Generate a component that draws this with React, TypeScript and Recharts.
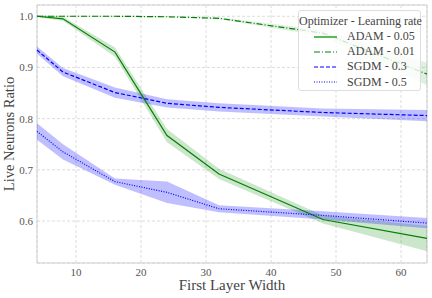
import React from 'react';
import {
  ComposedChart,
  Line,
  Area,
  XAxis,
  YAxis,
  CartesianGrid,
  ReferenceArea,
} from 'recharts';

const widths = [4, 8, 16, 24, 32, 48, 64];
const adam005 = [1.0, 0.995, 0.93, 0.767, 0.692, 0.603, 0.566];
const adam005Std = [0.002, 0.004, 0.009, 0.013, 0.01, 0.008, 0.025];
const adam001 = [1.0, 1.0, 1.0, 0.999, 0.996, 0.967, 0.887];
const adam001Std = [0.001, 0.001, 0.001, 0.001, 0.002, 0.006, 0.022];
const sgdm03 = [0.934, 0.891, 0.851, 0.83, 0.822, 0.812, 0.806];
const sgdm03Std = [0.007, 0.008, 0.01, 0.008, 0.008, 0.008, 0.011];
const sgdm05 = [0.775, 0.735, 0.677, 0.656, 0.624, 0.611, 0.596];
const sgdm05Std = [0.016, 0.015, 0.006, 0.021, 0.007, 0.008, 0.01];

const xTicks = [10, 20, 30, 40, 50, 60];
const yTicks = [0.6, 0.7, 0.8, 0.9, 1.0];

const GREEN = '#008000';
const BLUE = '#0000ff';
const FONT = '"Liberation Serif", "DejaVu Serif", serif';

const series = [
  { key: 'adam005', name: 'ADAM - 0.05', mean: adam005, std: adam005Std, color: GREEN, dash: undefined, band: 0.2 },
  { key: 'adam001', name: 'ADAM - 0.01', mean: adam001, std: adam001Std, color: GREEN, dash: '6 2 1 2', band: 0.12 },
  { key: 'sgdm03', name: 'SGDM - 0.3', mean: sgdm03, std: sgdm03Std, color: BLUE, dash: '4 2', band: 0.25 },
  { key: 'sgdm05', name: 'SGDM - 0.5', mean: sgdm05, std: sgdm05Std, color: BLUE, dash: '1 1.5', band: 0.25 },
];

const data = widths.map((w, i) => {
  const row: any = { width: w };
  series.forEach((s) => {
    row[s.key] = s.mean[i];
    row[s.key + 'Band'] = [s.mean[i] - s.std[i], s.mean[i] + s.std[i]];
  });
  return row;
});

function LegendBox() {
  return (
    <div
      style={{
        position: 'absolute',
        left: 298,
        top: 10,
        width: 123,
        height: 81,
        boxSizing: 'border-box',
        background: 'rgba(255,255,255,0.8)',
        border: '1px solid #ddd',
        borderRadius: 3,
        paddingTop: 3,
        fontFamily: FONT,
        fontSize: 12,
        color: '#444',
        whiteSpace: 'nowrap',
      }}
    >
      <div style={{ textAlign: 'center', lineHeight: '15px' }}>Optimizer - Learning rate</div>
      {series.map((s) => (
        <div key={s.key} style={{ display: 'flex', alignItems: 'center', height: 15.2 }}>
          <svg width={48} height={10}>
            <line
              x1={15}
              x2={38}
              y1={5}
              y2={5}
              stroke={s.key === 'adam005' ? '#5cb85c' : s.color}
              strokeWidth={s.key === 'adam005' ? 2 : 1.2}
              strokeDasharray={s.dash}
            />
          </svg>
          <span>{s.name}</span>
        </div>
      ))}
    </div>
  );
}

const YLabel = () => (
  <text
    x={9}
    y={134}
    transform="rotate(-90 9 134)"
    textAnchor="middle"
    dominantBaseline="central"
    fontFamily={FONT}
    fontSize={14.5}
    fill="#444"
  >
    Live Neurons Ratio
  </text>
);

const XLabel = () => (
  <text x={232} y={290} textAnchor="middle" fontFamily={FONT} fontSize={15} fill="#444">
    First Layer Width
  </text>
);

export default function App() {
  return (
    <div style={{ position: 'absolute', left: 0, top: 0, width: 432, height: 298, background: '#fff', fontFamily: FONT }}>
      <ComposedChart
        width={432}
        height={298}
        data={data}
        margin={{ top: 5, right: 5, left: 0, bottom: 0 }}
      >
        <CartesianGrid stroke="#dcdcdc" strokeDasharray="3 2" />
        <XAxis
          dataKey="width"
          type="number"
          domain={[4, 64]}
          ticks={xTicks}
          height={35}
          axisLine={false}
          tickLine={false}
          tickSize={2}
          tickMargin={3}
          tick={{ fontFamily: FONT, fontSize: 11, fill: '#555' }}
          label={{ content: () => <XLabel /> }}
        />
        <YAxis
          type="number"
          domain={[0.518, 1.022]}
          ticks={yTicks}
          width={37}
          axisLine={false}
          tickLine={false}
          tickSize={0}
          tickMargin={4}
          tickFormatter={(v) => v.toFixed(1)}
          tick={{ fontFamily: FONT, fontSize: 11, fill: '#555' }}
          label={{ content: () => <YLabel /> }}
        />
        <ReferenceArea x1={4} x2={64} y1={0.518} y2={1.022} fill="none" stroke="#d0d0d0" strokeWidth={1} />
        {series.map((s) => (
          <Area
            key={s.key + 'Band'}
            dataKey={s.key + 'Band'}
            type="linear"
            stroke="none"
            fill={s.color}
            fillOpacity={s.band}
            isAnimationActive={false}
            legendType="none"
            activeDot={false}
          />
        ))}
        {series.map((s) => (
          <Line
            key={s.key}
            dataKey={s.key}
            name={s.name}
            type="linear"
            stroke={s.color}
            strokeWidth={1.2}
            strokeDasharray={s.dash}
            dot={false}
            activeDot={false}
            isAnimationActive={false}
          />
        ))}
      </ComposedChart>
      <LegendBox />
    </div>
  );
}
